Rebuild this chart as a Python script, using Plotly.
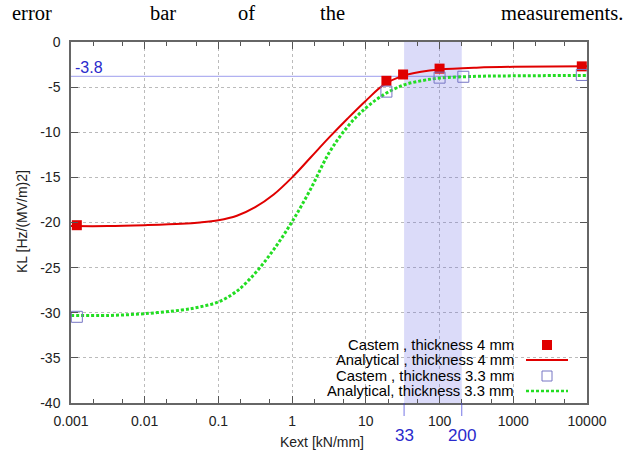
import math
import plotly.graph_objects as go

# ---------------- data ----------------
castem4_x = [0.0012, 19, 32, 100, 8500]
castem4_y = [-20.3, -4.3, -3.6, -2.95, -2.7]

castem33_x = [0.0012, 19, 100, 210, 8500]
castem33_y = [-30.45, -5.5, -3.95, -3.85, -3.65]

anal_x = [0.001, 0.00316, 0.01, 0.0316, 0.0562, 0.1, 0.178, 0.316, 0.562, 1, 1.78, 3.16, 5.62, 10,
          17.8, 31.6, 56.2, 100, 316, 1000, 10000]
anal4_y = [-20.4, -20.4, -20.3, -20.15, -20.0, -19.75, -19.25, -18.3, -16.9, -15.0, -12.8, -10.6,
           -8.5, -6.5, -4.7, -3.75, -3.3, -3.05, -2.85, -2.75, -2.7]
anal33_y = [-30.3, -30.3, -30.1, -29.7, -29.35, -28.8, -27.6, -25.6, -23.0, -19.9, -16.3, -12.3,
            -9.4, -7.3, -5.8, -4.8, -4.3, -4.0, -3.8, -3.75, -3.7]

ref_level = -3.8
band = [33, 200]
band_labels = ["33", "200"]

x_tickvals = [0.001, 0.01, 0.1, 1, 10, 100, 1000, 10000]
x_ticktext = ["0.001", "0.01", "0.1", "1", "10", "100", "1000", "10000"]
y_tickvals = [0, -5, -10, -15, -20, -25, -30, -35, -40]
y_ticktext = ["0", "-5", "-10", "-15", "-20", "-25", "-30", "-35", "-40"]

legend_labels = ["Castem , thickness 4 mm", "Analytical , thickness 4 mm",
                 "Castem , thickness 3.3 mm", "Analytical, thickness 3.3 mm"]
title_words = ["error", "bar", "of", "the", "measurements."]

# ---------------- styles ----------------
RED = "#e00000"
GREEN = "#22dd22"
OPEN_BLUE = "#7676c4"
LBLUE = "#2a2acc"
FONT = "Liberation Sans"

# plot area in pixels
L, R, T, B = 71, 587, 42, 403
W, H = 630, 452
def px_x(px):
    return (px - L) / (R - L)
def px_y(py):
    return (B - py) / (B - T)

fig = go.Figure()

fig.add_trace(go.Scatter(x=anal_x, y=anal4_y, mode="lines",
                         line=dict(color=RED, width=2, shape="spline", smoothing=1.0),
                         showlegend=False, hoverinfo="skip"))
fig.add_trace(go.Scatter(x=anal_x, y=anal33_y, mode="lines",
                         line=dict(color=GREEN, width=3, dash="3px,2px", shape="spline", smoothing=1.0),
                         showlegend=False, hoverinfo="skip"))
fig.add_trace(go.Scatter(x=castem4_x, y=castem4_y, mode="markers",
                         marker=dict(symbol="square", size=10, color=RED, line=dict(width=0)),
                         showlegend=False, cliponaxis=False))
fig.add_trace(go.Scatter(x=castem33_x, y=castem33_y, mode="markers",
                         marker=dict(symbol="square-open", size=11, color=OPEN_BLUE, line=dict(width=1)),
                         showlegend=False, cliponaxis=False))

shapes = []
# legend white box (hides grid)
shapes.append(dict(type="rect", xref="paper", yref="paper", x0=px_x(260), x1=1, y0=0, y1=px_y(337),
                   fillcolor="white", line=dict(width=0), layer="between"))
# shaded band
shapes.append(dict(type="rect", xref="x", yref="y", x0=band[0], x1=band[1], y0=-40, y1=0,
                   fillcolor="rgba(100,100,230,0.23)", line=dict(width=0), layer="between"))
# reference level line
shapes.append(dict(type="line", xref="x", yref="y", x0=0.001, x1=band[1], y0=ref_level, y1=ref_level,
                   line=dict(color="rgba(60,60,220,0.5)", width=1), layer="between"))
# band ticks below axis
for bx in band:
    shapes.append(dict(type="line", xref="x", yref="paper", x0=bx, x1=bx, y0=0, y1=px_y(416),
                       line=dict(color="rgba(60,60,220,0.7)", width=1)))

# legend samples
leg_y = [345, 360, 376, 391]
shapes.append(dict(type="rect", xref="paper", yref="paper", x0=px_x(542), x1=px_x(552),
                   y0=px_y(leg_y[0] + 5), y1=px_y(leg_y[0] - 5), fillcolor=RED, line=dict(width=0)))
shapes.append(dict(type="line", xref="paper", yref="paper", x0=px_x(526), x1=px_x(568),
                   y0=px_y(leg_y[1]), y1=px_y(leg_y[1]), line=dict(color=RED, width=2)))
shapes.append(dict(type="rect", xref="paper", yref="paper", x0=px_x(542), x1=px_x(552),
                   y0=px_y(leg_y[2] + 5), y1=px_y(leg_y[2] - 5), fillcolor="rgba(0,0,0,0)",
                   line=dict(color=OPEN_BLUE, width=1)))
shapes.append(dict(type="line", xref="paper", yref="paper", x0=px_x(526), x1=px_x(568),
                   y0=px_y(leg_y[3]), y1=px_y(leg_y[3]), line=dict(color=GREEN, width=2.5, dash="3px,2px")))

annotations = []
for lab, ly in zip(legend_labels, leg_y):
    annotations.append(dict(text=lab, xref="paper", yref="paper", x=px_x(516), y=px_y(ly),
                            xanchor="right", yanchor="middle", showarrow=False,
                            font=dict(family=FONT, size=14.8, color="black")))
# band labels
for bx, bl in zip(band, band_labels):
    annotations.append(dict(text=bl, xref="x", yref="paper", x=math.log10(bx), y=px_y(435),
                            xanchor="center", yanchor="middle", showarrow=False,
                            font=dict(family=FONT, size=17, color=LBLUE)))
# ref level label
annotations.append(dict(text=f"{ref_level}", xref="paper", yref="paper", x=px_x(73), y=px_y(67),
                        xanchor="left", yanchor="middle", showarrow=False,
                        font=dict(family=FONT, size=16, color=LBLUE)))
# axis titles
annotations.append(dict(text="Kext [kN/mm]", xref="paper", yref="paper", x=px_x(322), y=px_y(442),
                        xanchor="center", yanchor="middle", showarrow=False,
                        font=dict(family=FONT, size=14, color="#222")))
annotations.append(dict(text="KL [Hz/(MV/m)2]", xref="paper", yref="paper", x=px_x(22), y=px_y(222),
                        xanchor="center", yanchor="middle", showarrow=False, textangle=-90,
                        font=dict(family=FONT, size=14, color="#222")))
# title words (justified text)
word_x = [10, 148, 236, 318, 625]
anchors = ["left", "left", "left", "left", "right"]
for wd, wx, an in zip(title_words, word_x, anchors):
    annotations.append(dict(text=wd, xref="paper", yref="paper", x=px_x(wx), y=px_y(13),
                            xanchor=an, yanchor="middle", showarrow=False,
                            font=dict(family="Liberation Serif", size=20.5, color="black")))

fig.update_layout(
    width=W, height=H,
    margin=dict(l=L, r=W - R, t=T, b=H - B, pad=0),
    plot_bgcolor="white", paper_bgcolor="white",
    shapes=shapes, annotations=annotations,
    showlegend=False,
    font=dict(family=FONT, size=14, color="#222"),
)
fig.update_xaxes(
    type="log", range=[-3, 4],
    tickvals=x_tickvals, ticktext=x_ticktext,
    ticks="inside", ticklen=7, tickcolor="#555", tickwidth=1,
    showline=True, linecolor="#666", linewidth=1.5, mirror="ticks",
    showgrid=True, gridcolor="#bbbbbb", griddash="dot", gridwidth=1,
    minor=dict(ticks="inside", ticklen=4, tickcolor="#555", dtick="D2", showgrid=False),
    zeroline=False, tickfont=dict(size=14, family=FONT, color="#222"),
    ticklabelstandoff=4,
)
fig.update_yaxes(
    range=[-40, 0],
    tickvals=y_tickvals, ticktext=y_ticktext,
    ticks="inside", ticklen=7, tickcolor="#555", tickwidth=1,
    showline=True, linecolor="#666", linewidth=1.5, mirror="ticks",
    showgrid=True, gridcolor="#bbbbbb", griddash="dot", gridwidth=1,
    zeroline=False, tickfont=dict(size=14, family=FONT, color="#222"),
    ticklabelstandoff=6,
)

fig.write_html("out.html")
